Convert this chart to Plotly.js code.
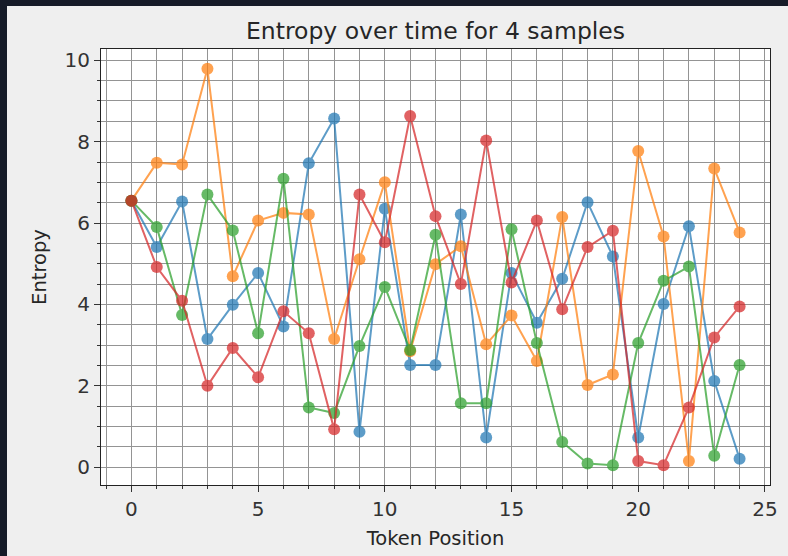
<!DOCTYPE html>
<html>
<head>
<meta charset="utf-8">
<script src="https://cdn.plot.ly/plotly-3.0.1.min.js"></script>
<style>
  html, body { margin: 0; padding: 0; width: 788px; height: 556px; background: #161b28; overflow: hidden; }
  #chart { position: absolute; left: 7px; top: 6px; width: 781px; height: 550px; }
</style>
</head>
<body>
<div id="chart"></div>
<script>
const tokenPositions = Array.from({length: 25}, (_, i) => i);

const sample1 = [6.55, 5.41, 6.53, 3.15, 3.99, 4.77, 3.46, 7.47, 8.57, 0.87,
                 6.35, 2.51, 2.51, 6.21, 0.73, 4.77, 3.55, 4.63, 6.51, 5.18,
                 0.73, 4.01, 5.92, 2.12, 0.21];
const sample2 = [6.55, 7.48, 7.44, 9.79, 4.69, 6.06, 6.25, 6.21, 3.15, 5.11,
                 7.00, 2.85, 4.99, 5.43, 3.02, 3.73, 2.61, 6.15, 2.02, 2.28,
                 7.77, 5.67, 0.15, 7.34, 5.77];
const sample3 = [6.55, 5.90, 3.74, 6.70, 5.82, 3.29, 7.09, 1.47, 1.33, 2.98,
                 4.43, 2.88, 5.71, 1.57, 1.57, 5.85, 3.05, 0.62, 0.09, 0.05,
                 3.05, 4.58, 4.93, 0.28, 2.51];
const sample4 = [6.55, 4.92, 4.09, 2.00, 2.93, 2.21, 3.83, 3.29, 0.93, 6.70,
                 5.53, 8.63, 6.17, 4.50, 8.03, 4.54, 6.06, 3.88, 5.41, 5.81,
                 0.15, 0.05, 1.47, 3.19, 3.95];

const seriesValues = [sample1, sample2, sample3, sample4];
const seriesColors = ['#1f77b4', '#ff7f0e', '#2ca02c', '#d62728'];

const traces = seriesValues.map((vals, k) => ({
  x: tokenPositions,
  y: vals,
  type: 'scatter',
  mode: 'lines+markers',
  opacity: 0.72,
  line: {color: seriesColors[k], width: 2},
  marker: {color: seriesColors[k], size: 12},
  hoverinfo: 'skip',
  showlegend: false
}));

const allVals = seriesValues.flat();
const yMin = Math.min(...allVals), yMax = Math.max(...allVals);
const yPad = (yMax - yMin) * 0.05;
const xPad = (tokenPositions[tokenPositions.length - 1] - tokenPositions[0]) * 0.05;

const font = 'DejaVu Sans, sans-serif';
const gridCol = '#949494';

const layout = {
  width: 781, height: 550,
  paper_bgcolor: '#efefef',
  plot_bgcolor: '#ffffff',
  margin: {l: 94, r: 18, t: 43, b: 71},
  showlegend: false,
  title: {
    text: 'Entropy over time for 4 samples',
    font: {family: font, size: 23.5, color: '#262626'},
    x: 0.5, xref: 'paper', xanchor: 'center',
    y: 1, yref: 'paper', yanchor: 'bottom', pad: {b: 10}
  },
  xaxis: {
    range: [tokenPositions[0] - xPad, tokenPositions[tokenPositions.length - 1] + xPad],
    tickmode: 'linear', tick0: 0, dtick: 5,
    ticks: 'outside', ticklen: 6, tickwidth: 1, tickcolor: '#333',
    tickfont: {family: font, size: 20, color: '#333'},
    showgrid: true, gridcolor: gridCol, gridwidth: 1,
    zeroline: false,
    showline: true, linecolor: '#222', linewidth: 1, mirror: true,
    minor: {dtick: 1, tick0: 0, ticks: 'outside', ticklen: 3, tickcolor: '#333', showgrid: true, gridcolor: gridCol, gridwidth: 1},
    title: {text: 'Token Position', font: {family: font, size: 19.5, color: '#262626'}, standoff: 11}
  },
  yaxis: {
    range: [yMin - yPad, yMax + yPad],
    tickmode: 'linear', tick0: 0, dtick: 2,
    ticks: 'outside', ticklen: 6, tickwidth: 1, tickcolor: '#333',
    tickfont: {family: font, size: 20, color: '#333'},
    showgrid: true, gridcolor: gridCol, gridwidth: 1,
    zeroline: false,
    showline: true, linecolor: '#222', linewidth: 1, mirror: true,
    minor: {dtick: 0.5, tick0: 0, ticks: 'outside', ticklen: 3, tickcolor: '#333', showgrid: true, gridcolor: gridCol, gridwidth: 1},
    title: {text: 'Entropy', font: {family: font, size: 19.5, color: '#262626'}, standoff: 12}
  }
};

Plotly.newPlot('chart', traces, layout, {staticPlot: true, displayModeBar: false});
</script>
</body>
</html>
